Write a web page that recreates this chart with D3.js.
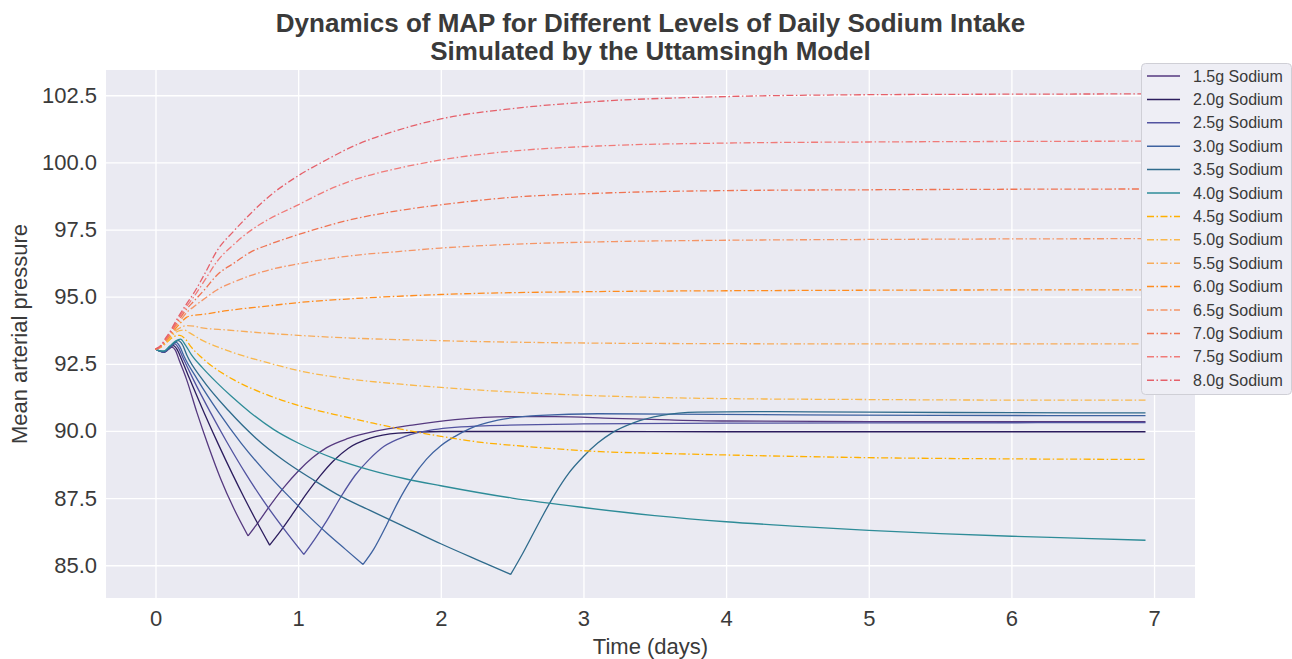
<!DOCTYPE html>
<html>
<head>
<meta charset="utf-8">
<title>MAP and daily sodium intake</title>
<script src="https://d3js.org/d3.v7.min.js"></script>
<style>
  body { margin: 0; background: #fff; }
  text { font-family: "Liberation Sans", Arial, sans-serif; fill: #3a3a3a; }
</style>
</head>
<body>
<div id="chart"></div>
<script>
// sodium intake levels, one line each
var sodium = [1.5, 2.0, 2.5, 3.0, 3.5, 4.0, 4.5, 5.0, 5.5, 6.0, 6.5, 7.0, 7.5, 8.0];

// [time in days, mean arterial pressure]
var map15 = [[0,93.05],[0.03,92.97],[0.06,92.93],[0.09,93.03],[0.115,93.12],[0.14,93.0],[0.165,92.65],[0.217,91.93],[0.29,90.69],[0.37,89.45],[0.455,88.24],[0.55,87.1],[0.649,86.09],[0.72,86.6],[0.8,87.2],[0.9,87.9],[1.0,88.5],[1.1,89.0],[1.2,89.38],[1.35,89.72],[1.55,90.0],[1.8,90.22],[2.1,90.42],[2.5,90.53],[2.8,90.53],[3.2,90.47],[3.6,90.41],[4.0,90.37],[5.0,90.35],[6.0,90.35],[6.94,90.35]];
var map20 = [[0,93.05],[0.03,92.97],[0.06,92.93],[0.09,93.05],[0.125,93.18],[0.15,93.05],[0.18,92.7],[0.24,91.93],[0.34,90.69],[0.44,89.51],[0.537,88.42],[0.62,87.53],[0.71,86.62],[0.8,85.75],[0.88,86.3],[0.96,86.9],[1.05,87.6],[1.15,88.3],[1.25,88.9],[1.35,89.35],[1.5,89.72],[1.7,89.92],[2.0,89.98],[3.0,89.98],[4.0,89.97],[5.5,89.97],[6.94,89.97]];
var map25 = [[0,93.05],[0.03,92.97],[0.06,92.94],[0.1,93.1],[0.135,93.24],[0.16,93.1],[0.19,92.75],[0.264,91.93],[0.385,90.69],[0.5,89.59],[0.63,88.43],[0.75,87.45],[0.9,86.35],[1.04,85.4],[1.12,86.0],[1.2,86.65],[1.3,87.55],[1.4,88.35],[1.5,88.95],[1.6,89.42],[1.75,89.8],[1.95,90.05],[2.3,90.19],[3.0,90.26],[4.0,90.29],[5.0,90.3],[6.94,90.31]];
var map30 = [[0,93.05],[0.03,92.97],[0.06,92.95],[0.1,93.12],[0.145,93.3],[0.17,93.15],[0.2,92.78],[0.292,91.93],[0.443,90.69],[0.6,89.55],[0.758,88.55],[0.9,87.75],[1.05,86.95],[1.2,86.2],[1.33,85.6],[1.455,85.03],[1.53,85.6],[1.62,86.5],[1.7,87.35],[1.8,88.25],[1.9,88.95],[2.0,89.45],[2.1,89.8],[2.2,90.08],[2.4,90.4],[2.7,90.58],[3.1,90.64],[3.6,90.63],[4.5,90.6],[5.5,90.58],[6.94,90.57]];
var map35 = [[0,93.05],[0.03,92.97],[0.06,92.96],[0.1,93.14],[0.16,93.36],[0.19,93.2],[0.22,92.82],[0.327,91.93],[0.513,90.75],[0.7,89.75],[0.9,88.9],[1.1,88.2],[1.27,87.65],[1.5,87.05],[1.8,86.3],[2.0,85.8],[2.3,85.1],[2.49,84.66],[2.57,85.4],[2.65,86.2],[2.72,86.9],[2.8,87.65],[2.9,88.45],[3.0,89.05],[3.1,89.55],[3.2,89.93],[3.35,90.3],[3.55,90.58],[3.8,90.7],[4.2,90.72],[5.0,90.7],[6.0,90.68],[6.94,90.67]];
var map40 = [[0,93.05],[0.03,92.98],[0.06,92.98],[0.1,93.16],[0.14,93.35],[0.175,93.42],[0.21,93.2],[0.25,92.85],[0.33,92.35],[0.43,91.8],[0.53,91.3],[0.664,90.69],[0.83,90.05],[1.0,89.55],[1.25,88.98],[1.5,88.55],[1.75,88.22],[2.0,87.96],[2.5,87.5],[3.0,87.15],[3.5,86.85],[4.0,86.62],[4.5,86.45],[5.0,86.3],[5.5,86.18],[6.0,86.08],[6.5,86.0],[6.94,85.93]];
var map45 = [[0,93.05],[0.04,93.12],[0.07,93.25],[0.1,93.4],[0.13,93.52],[0.17,93.56],[0.21,93.42],[0.245,93.16],[0.32,92.75],[0.4,92.4],[0.55,91.9],[0.78,91.35],[1.0,90.95],[1.25,90.62],[1.5,90.32],[1.72,90.07],[2.0,89.8],[2.19,89.64],[2.65,89.4],[3.12,89.23],[3.5,89.17],[3.89,89.12],[4.5,89.05],[5.08,89.0],[6.0,88.96],[6.94,88.94]];
var map50 = [[0,93.05],[0.04,93.13],[0.07,93.28],[0.1,93.45],[0.13,93.62],[0.17,93.74],[0.2,93.76],[0.24,93.65],[0.315,93.41],[0.5,93.0],[0.78,92.55],[1.0,92.25],[1.366,91.93],[1.7,91.75],[2.0,91.62],[2.5,91.45],[3.1,91.31],[3.9,91.21],[5.0,91.17],[6.0,91.15],[6.94,91.15]];
var map55 = [[0,93.05],[0.04,93.14],[0.07,93.3],[0.1,93.48],[0.13,93.68],[0.175,93.85],[0.222,93.92],[0.27,93.9],[0.315,93.85],[0.5,93.76],[0.78,93.64],[1.0,93.56],[1.366,93.46],[2.0,93.36],[3.1,93.27],[4.0,93.25],[5.0,93.24],[6.0,93.24],[6.94,93.24]];
var map60 = [[0,93.05],[0.04,93.15],[0.07,93.33],[0.1,93.52],[0.13,93.74],[0.175,94.02],[0.22,94.24],[0.26,94.3],[0.315,94.33],[0.5,94.48],[0.78,94.65],[1.0,94.78],[1.366,94.92],[2.0,95.08],[3.1,95.19],[4.0,95.22],[5.0,95.24],[6.0,95.25],[6.94,95.25]];
var map65 = [[0,93.05],[0.04,93.16],[0.07,93.36],[0.1,93.56],[0.13,93.8],[0.175,94.12],[0.22,94.42],[0.267,94.62],[0.35,94.95],[0.43,95.25],[0.55,95.55],[0.664,95.78],[0.8,96.0],[1.0,96.22],[1.364,96.52],[1.7,96.68],[2.0,96.81],[2.5,96.95],[3.1,97.04],[4.0,97.1],[5.0,97.13],[6.0,97.15],[6.94,97.16]];
var map70 = [[0,93.05],[0.04,93.17],[0.07,93.39],[0.1,93.6],[0.13,93.86],[0.175,94.22],[0.22,94.55],[0.267,94.82],[0.35,95.3],[0.43,95.8],[0.55,96.25],[0.664,96.65],[0.8,96.95],[1.0,97.31],[1.364,97.86],[1.7,98.2],[2.0,98.42],[2.5,98.7],[3.1,98.85],[4.0,98.95],[5.0,98.98],[6.0,99.0],[6.94,99.01]];
var map75 = [[0,93.05],[0.04,93.18],[0.07,93.42],[0.1,93.64],[0.13,93.92],[0.175,94.3],[0.22,94.65],[0.267,94.98],[0.35,95.65],[0.43,96.3],[0.55,96.95],[0.664,97.45],[0.8,97.9],[1.0,98.42],[1.2,98.95],[1.364,99.3],[1.7,99.78],[2.0,100.09],[2.5,100.42],[3.1,100.61],[4.0,100.72],[5.0,100.76],[6.0,100.78],[6.94,100.79]];
var map80 = [[0,93.05],[0.04,93.19],[0.07,93.45],[0.1,93.68],[0.13,93.97],[0.175,94.38],[0.22,94.75],[0.267,95.12],[0.35,95.9],[0.43,96.7],[0.55,97.45],[0.664,98.08],[0.8,98.75],[1.0,99.5],[1.2,100.1],[1.364,100.55],[1.7,101.2],[2.0,101.62],[2.5,102.0],[3.1,102.27],[4.0,102.45],[5.0,102.52],[6.0,102.54],[6.94,102.55]];

var allSeries = [map15, map20, map25, map30, map35, map40, map45, map50, map55, map60, map65, map70, map75, map80];

var colors = ["#55397f", "#2c1d5e", "#5253a0", "#3e62a0", "#2f6b8c", "#2e8c98",
              "#ffb000", "#f9b84c", "#f7ac5a", "#ff8c1e", "#f59566", "#ef7352", "#f07a78", "#e5606a"];

var xTicks = [0, 1, 2, 3, 4, 5, 6, 7];
var yTicks = [85, 87.5, 90, 92.5, 95, 97.5, 100, 102.5];

var W = 1292, H = 659;
var plot = {left: 106, right: 1195, top: 70, bottom: 598};
var dashDot = "7,2.5,1.5,2.5";

var svg = d3.select("#chart").append("svg")
    .attr("width", W)
    .attr("height", H);

var x = d3.scaleLinear().domain([-0.347, 7.287]).range([plot.left, plot.right]);
var y = d3.scaleLinear().domain([83.78, 103.44]).range([plot.bottom, plot.top]);

// plot background
svg.append("rect")
    .attr("x", plot.left).attr("y", plot.top)
    .attr("width", plot.right - plot.left)
    .attr("height", plot.bottom - plot.top)
    .attr("fill", "#eaeaf2");

// axes with white grid lines
var gx = svg.append("g")
    .attr("transform", "translate(0," + plot.bottom + ")")
    .call(d3.axisBottom(x).tickValues(xTicks).tickFormat(d3.format("d"))
        .tickSizeInner(-(plot.bottom - plot.top)).tickSizeOuter(0).tickPadding(12));
var gy = svg.append("g")
    .attr("transform", "translate(" + plot.left + ",0)")
    .call(d3.axisLeft(y).tickValues(yTicks).tickFormat(d3.format(".1f"))
        .tickSizeInner(-(plot.right - plot.left)).tickSizeOuter(0).tickPadding(9));

[gx, gy].forEach(function(g) {
    g.select(".domain").remove();
    g.selectAll(".tick line").attr("stroke", "#fff").attr("stroke-width", 1.3);
    g.selectAll(".tick text").attr("fill", "#3a3a3a").style("font-size", "22px");
});

// lines
var line = d3.line()
    .x(function(d) { return x(d[0]); })
    .y(function(d) { return y(d[1]); })
    .curve(d3.curveMonotoneX);

// split at the sharp minimum so the V keeps its corner
function pathFor(pts, solid) {
    var iMin = d3.minIndex(pts, function(d) { return d[1]; });
    if (solid && iMin > 0 && iMin < pts.length - 1) {
        return line(pts.slice(0, iMin + 1)) + line(pts.slice(iMin));
    }
    return line(pts);
}

allSeries.forEach(function(pts, i) {
    var solid = sodium[i] <= 4.0;
    svg.append("path")
        .attr("d", pathFor(pts, solid))
        .attr("fill", "none")
        .attr("stroke", colors[i])
        .attr("stroke-width", 1.3)
        .attr("stroke-linejoin", "round")
        .attr("stroke-dasharray", solid ? null : dashDot);
});

// title and axis labels
var title = svg.append("text")
    .attr("text-anchor", "middle")
    .style("font-size", "26px")
    .style("font-weight", "bold")
    .attr("fill", "#444");
title.append("tspan").attr("x", (plot.left + plot.right) / 2).attr("y", 32)
    .text("Dynamics of MAP for Different Levels of Daily Sodium Intake");
title.append("tspan").attr("x", (plot.left + plot.right) / 2).attr("y", 60)
    .text("Simulated by the Uttamsingh Model");

svg.append("text")
    .attr("x", (plot.left + plot.right) / 2)
    .attr("y", 654)
    .attr("text-anchor", "middle")
    .style("font-size", "22px")
    .text("Time (days)");

svg.append("text")
    .attr("transform", "translate(27," + (plot.top + plot.bottom) / 2 + ") rotate(-90)")
    .attr("text-anchor", "middle")
    .style("font-size", "22px")
    .text("Mean arterial pressure");

// legend
var lg = svg.append("g").attr("transform", "translate(1141,63)");
lg.append("rect")
    .attr("x", 0.5).attr("y", 0.5)
    .attr("width", 150).attr("height", 331)
    .attr("rx", 4)
    .attr("fill", "#eeeef5")
    .attr("stroke", "#cfcfd6");

var rowH = 23.4;
sodium.forEach(function(s, i) {
    var cy = 13 + i * rowH;
    lg.append("line")
        .attr("x1", 6).attr("x2", 39)
        .attr("y1", cy).attr("y2", cy)
        .attr("stroke", colors[i])
        .attr("stroke-width", 1.5)
        .attr("stroke-dasharray", s <= 4.0 ? null : dashDot);
    lg.append("text")
        .attr("x", 52).attr("y", cy)
        .attr("dy", "0.35em")
        .style("font-size", "16px")
        .attr("fill", "#3a3a3a")
        .text(s.toFixed(1) + "g Sodium");
});
</script>
</body>
</html>
